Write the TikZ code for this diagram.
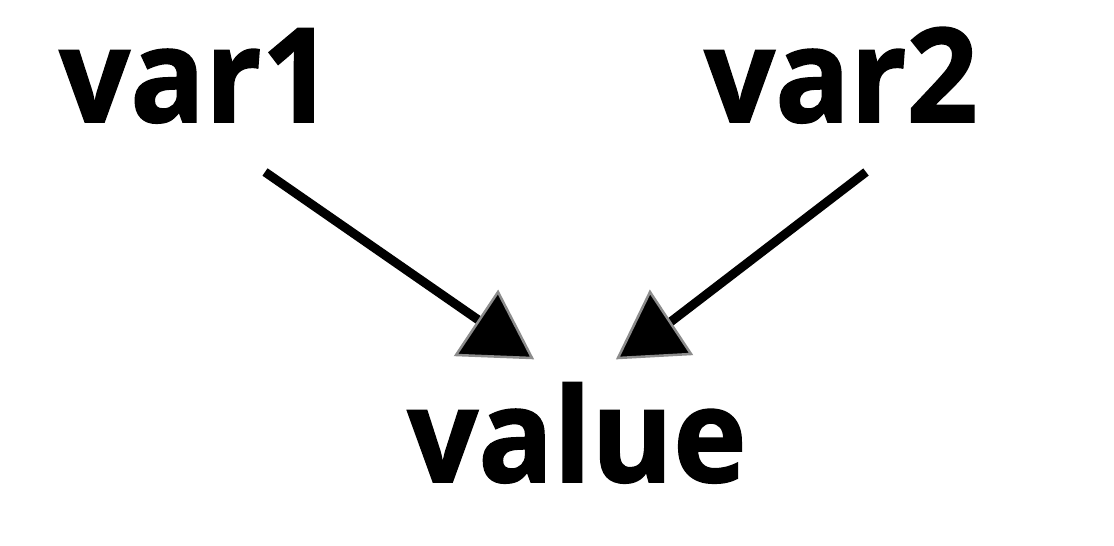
\documentclass[tikz,border=0pt]{standalone}
\usepackage{fontspec}
\setmainfont{Open Sans}[BoldFeatures={FakeBold=1.2}]
\begin{document}
\begin{tikzpicture}[x=1pt,y=-1pt,
  lbl/.style={inner sep=0pt, anchor=base, xscale=0.95, font=\fontsize{131}{131}\selectfont\bfseries},
  conn/.style={line width=9pt, black},
  tri/.style={fill=black, draw=black!45, line width=2.5pt, line join=miter}]
\useasboundingbox (0,0) rectangle (1114,546);
\node[lbl] (var1) at (196,122) {var1};
\node[lbl] (var2) at (841,122) {var2};
\node[lbl] (value) at (577,482) {value};
\coordinate (s1) at (265,172);
\coordinate (e1) at (490,328);
\coordinate (s2) at (866,172);
\coordinate (e2) at (660,330);
\draw[conn] (s1) -- (e1);
\draw[conn] (s2) -- (e2);
\draw[tri] (456,355) -- (498,292) -- (532,358) -- cycle;
\draw[tri] (618,358) -- (650,292) -- (691,354) -- cycle;
\end{tikzpicture}
\end{document}
